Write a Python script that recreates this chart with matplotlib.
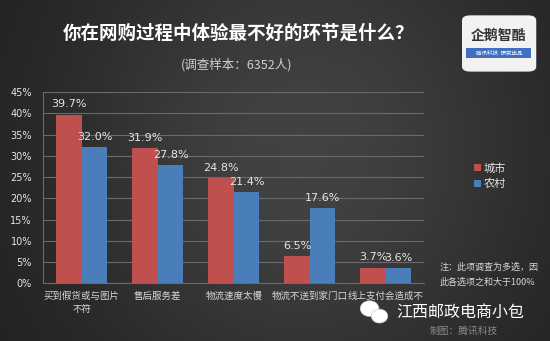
import matplotlib.pyplot as plt
import numpy as np
from matplotlib.patches import FancyBboxPatch, Rectangle, Ellipse

plt.rcParams['font.family'] = ['Noto Sans CJK SC', 'DejaVu Sans']

# data
categories = ["买到假货或与图片\n不符", "售后服务差", "物流速度太慢", "物流不送到家门口", "线上支付会造成不"]
city = [39.7, 31.9, 24.8, 6.5, 3.7]
rural = [32.0, 27.8, 21.4, 17.6, 3.6]
yticks = [0, 5, 10, 15, 20, 25, 30, 35, 40, 45]

RED = "#c0504d"
BLUE = "#4a7ebb"
TXT = "#e6e6e6"


def main() -> None:
    fig = plt.figure(figsize=(5.5, 3.41), dpi=100)

    # dark radial background
    bg = fig.add_axes([0, 0, 1, 1], zorder=-10)
    gx, gy = np.meshgrid(np.linspace(0, 1, 220), np.linspace(0, 1, 140))
    shade = 0.12 + 0.14 * np.exp(-((gx - 0.55) ** 2 / 0.2 + (gy - 0.45) ** 2 / 0.6))
    bg.imshow(np.dstack([shade] * 3), extent=[0, 1, 0, 1], aspect="auto", origin="upper")
    bg.axis("off")

    ax = fig.add_axes([0.0782, 0.1692, 0.6927, 0.561])
    ax.set_facecolor("none")
    x = np.arange(len(categories))
    w = 0.335
    ax.bar(x - w / 2, city, w, color=RED, label="城市", zorder=3)
    ax.bar(x + w / 2, rural, w, color=BLUE, label="农村", zorder=3)

    for xi, v in zip(x, city):
        ax.text(xi - w / 2, v + 1.2, f"{v:.1f}%", ha="center", va="bottom",
                color=TXT, fontsize=8, family="DejaVu Sans", zorder=4)
    for xi, v in zip(x, rural):
        ax.text(xi + w / 2, v + 1.2, f"{v:.1f}%", ha="center", va="bottom",
                color=TXT, fontsize=8, family="DejaVu Sans", zorder=4)

    ax.set_xlim(-0.51, 4.5)
    ax.set_ylim(0, 45)
    ax.set_yticks(yticks)
    ax.set_yticklabels([f"{t}%" for t in yticks], color=TXT, fontsize=7, family="DejaVu Sans")
    ax.set_xticks(x)
    ax.set_xticklabels(categories, color="#d8d8d8", fontsize=6.8, linespacing=1.6)
    ax.tick_params(axis="y", length=0, pad=8)
    ax.tick_params(axis="x", length=0, pad=6)
    ax.grid(axis="y", color="#6a6a6a", linewidth=0.8, zorder=0)
    for side in ["top", "right"]:
        ax.spines[side].set_visible(False)
    ax.spines["left"].set_color("#6a6a6a")
    ax.spines["bottom"].set_color("#6a6a6a")

    # legend
    fig.legend(loc="upper left", bbox_to_anchor=(0.843, 0.552), frameon=False,
               labelcolor=TXT, fontsize=8, handlelength=0.7, handleheight=0.7,
               handletextpad=0.2, labelspacing=0.5)

    # titles
    fig.text(0.433, 0.903, "你在网购过程中体验最不好的环节是什么？", ha="center", va="center",
             color="white", fontsize=13.3, fontweight="bold")
    fig.text(0.43, 0.81, "(调查样本：6352人)", ha="center", va="center",
             color="#d0d0d0", fontsize=9)

    # note
    fig.text(0.80, 0.194, "注：此项调查为多选，因\n此各选项之和大于100%", ha="left", va="center",
             color="#d8d8d8", fontsize=6.5, linespacing=1.7)

    # logo box
    fig.patches.append(FancyBboxPatch((0.84, 0.79), 0.135, 0.165, boxstyle="round,pad=0,rounding_size=0.015",
                                      transform=fig.transFigure, facecolor="#f2f2f2", edgecolor="none"))
    fig.text(0.907, 0.895, "企鹅智酷", ha="center", va="center", color="#333333", fontsize=10, fontweight="bold")
    fig.patches.append(Rectangle((0.848, 0.83), 0.118, 0.03, transform=fig.transFigure,
                                 facecolor="#3f6fc0", edgecolor="none"))
    fig.text(0.907, 0.845, "腾讯科技  研究出品", ha="center", va="center", color="white", fontsize=4)

    # watermark
    fig.text(0.844, 0.03, "制图：腾讯科技", ha="center", va="center", color="#8a8a8a", fontsize=7)
    for cx, cy, ew in [(0.672, 0.095, 0.034), (0.69, 0.073, 0.03)]:
        fig.patches.append(Ellipse((cx, cy), ew, ew * 1.35, transform=fig.transFigure,
                                   facecolor="white", edgecolor="#cccccc", linewidth=0.5))
    fig.text(0.837, 0.085, "江西邮政电商小包", ha="center", va="center", color="white", fontsize=11.5)

    fig.savefig("out.png", dpi=100, facecolor=fig.get_facecolor())


if __name__ == "__main__":
    main()
